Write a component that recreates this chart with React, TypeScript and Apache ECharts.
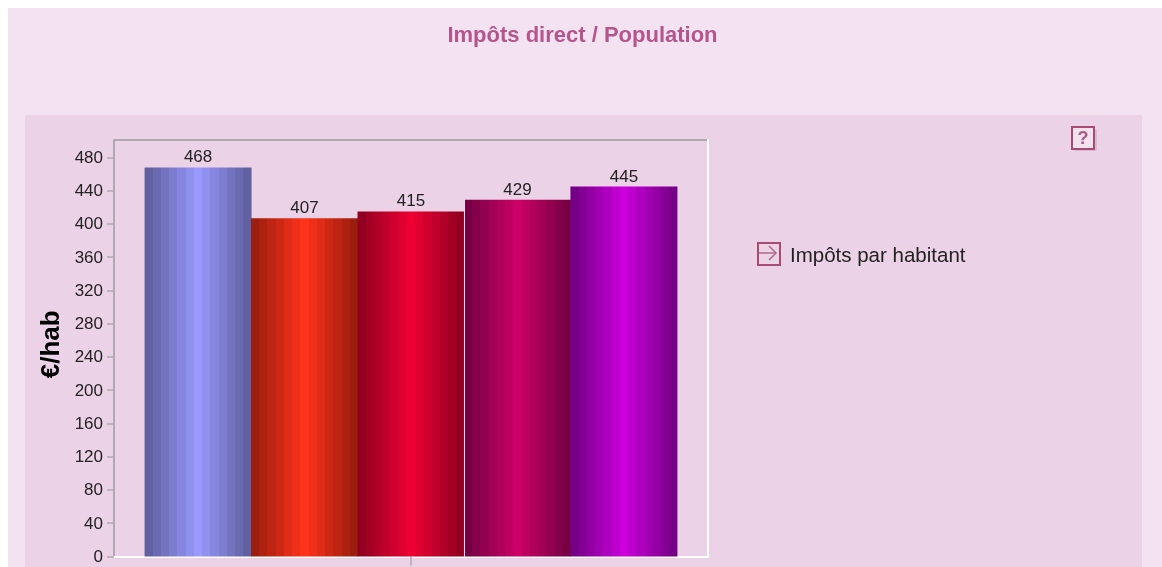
import React, { useEffect, useRef } from "react";
import * as echarts from "echarts";

const seriesName = "Impôts par habitant";
const categories = [""];
const values = [468, 407, 415, 429, 445];
const edgeColors = ["#5c5c99", "#941c0e", "#8a0020", "#6e0040", "#6e0080"];
const centerColors = ["#9999ff", "#ff3319", "#ee0033", "#cc0066", "#cc00dd"];
const yTicks = [0, 40, 80, 120, 160, 200, 240, 280, 320, 360, 400, 440, 480];

function mix(a: string, b: string, t: number) {
  const pa = [1, 3, 5].map((i) => parseInt(a.slice(i, i + 2), 16));
  const pb = [1, 3, 5].map((i) => parseInt(b.slice(i, i + 2), 16));
  return `rgb(${pa.map((v, i) => Math.round(v + (pb[i] - v) * t)).join(",")})`;
}

function banded(edge: string, center: string, seam = false) {
  const bands = 13;
  const stops: { offset: number; color: string }[] = [];
  for (let i = 0; i < bands; i++) {
    const t = 1 - Math.abs((i + 0.5) / bands - 0.5) * 2;
    const c = mix(edge, center, t);
    const start = seam && i === 0 ? 0.012 : i / bands;
    stops.push({ offset: start, color: c }, { offset: (i + 1) / bands, color: c });
  }
  if (seam) {
    stops.unshift({ offset: 0, color: "#f2dcec" }, { offset: 0.012, color: "#f2dcec" });
  }
  return new echarts.graphic.LinearGradient(0, 0, 1, 0, stops);
}

const FONT = "'Liberation Sans', Arial, sans-serif";

export default function App() {
  const ref = useRef<HTMLDivElement>(null);
  useEffect(() => {
    document.body.style.margin = "0";
    const chart = echarts.init(ref.current!, undefined, { renderer: "svg" });
    chart.setOption({
      animation: false,
      backgroundColor: "#ffffff",
      title: {
        text: "Impôts direct / Population",
        left: 577.5,
        top: 18,
        textAlign: "center",
        textStyle: { color: "#b5558c", fontFamily: FONT, fontWeight: "bold", fontSize: 22 },
      },
      grid: { left: 114, top: 140, width: 594, height: 416.5 },
      legend: {
        left: 752,
        top: 237,
        itemWidth: 22,
        itemHeight: 22,
        data: [
          {
            name: seriesName,
            icon: "rect",
            itemStyle: { color: "#ecd4e6", borderColor: "#a84a74", borderWidth: 2 },
          },
        ],
        textStyle: { color: "#222222", fontFamily: FONT, fontSize: 20.5, padding: [0, 0, 4, 5] },
        selectedMode: false,
      },
      xAxis: {
        type: "category",
        data: categories,
        axisLine: { show: true, lineStyle: { color: "#ffffff", width: 2 } },
        axisTick: { show: true, alignWithLabel: true, length: 9, lineStyle: { color: "#b0a8b0", width: 1.5 } },
        axisLabel: { show: false },
        splitLine: { show: false },
      },
      yAxis: {
        type: "value",
        min: 0,
        max: 501,
        interval: 40,
        name: "€/hab",
        nameLocation: "middle",
        nameGap: 51,
        nameTextStyle: {
          color: "#000000",
          fontFamily: FONT,
          fontWeight: "bold",
          fontSize: 26,
          padding: [0, 0, 0, 8],
        },
        axisLine: { show: true, lineStyle: { color: "#b0a8b0", width: 2 } },
        axisTick: { show: true, length: 7, customValues: yTicks, lineStyle: { color: "#b0a8b0", width: 1.5 } },
        axisLabel: {
          customValues: yTicks,
          color: "#222222",
          fontFamily: FONT,
          fontSize: 17,
          margin: 11,
        },
        splitLine: { show: false },
      },
      graphic: [
        { type: "rect", z: -10, silent: true, shape: { x: 8, y: 8, width: 1154, height: 559 }, style: { fill: "#f2e2f2" } },
        { type: "rect", z: -9, silent: true, shape: { x: 25, y: 115, width: 1117, height: 452 }, style: { fill: "#ecd2e6" } },
        { type: "line", z: 10, silent: true, shape: { x1: 114, y1: 140, x2: 708, y2: 140 }, style: { stroke: "#b0a8b0", lineWidth: 2 } },
        { type: "line", z: 10, silent: true, shape: { x1: 708, y1: 139, x2: 708, y2: 557 }, style: { stroke: "#ffffff", lineWidth: 2 } },
        { type: "polyline", z: 10, silent: true, shape: { points: [[759, 253], [776, 253]] }, style: { stroke: "#b0688e", lineWidth: 1.5, fill: "none" } },
        { type: "polyline", z: 10, silent: true, shape: { points: [[769, 246], [776, 253], [769, 260]] }, style: { stroke: "#b0688e", lineWidth: 1.5, fill: "none" } },
        { type: "rect", z: 9, silent: true, shape: { x: 1074, y: 129, width: 23, height: 22 }, style: { fill: "#d9bdd1" } },
        { type: "rect", z: 10, silent: true, shape: { x: 1072, y: 127, width: 22, height: 22 }, style: { fill: "#f2e2ee", stroke: "#a84a74", lineWidth: 2 } },
        { type: "text", z: 11, silent: true, style: { x: 1083, y: 138, text: "?", align: "center", verticalAlign: "middle", fill: "#a85a88", font: `bold 18px ${FONT}` } },
      ],
      series: values.map((v, i) => ({
        type: "bar",
        name: seriesName,
        data: [v],
        barWidth: 107,
        barGap: "-0.5%",
        itemStyle: { color: banded(edgeColors[i], centerColors[i], i === 3) },
        label: {
          show: true,
          position: "top",
          distance: 2,
          color: "#222222",
          fontFamily: FONT,
          fontSize: 17,
        },
      })),
    });
    return () => chart.dispose();
  }, []);
  return (
    <div
      ref={ref}
      style={{ position: "fixed", left: 0, top: 0, width: 1162, height: 567, filter: "blur(0.5px)" }}
    />
  );
}
